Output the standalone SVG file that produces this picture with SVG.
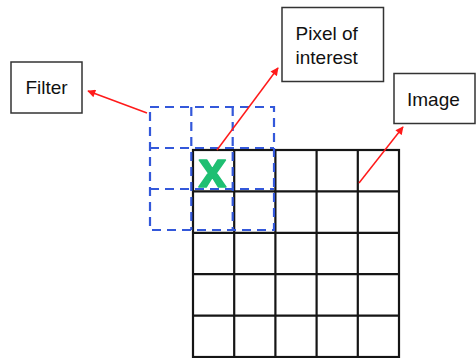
<svg xmlns="http://www.w3.org/2000/svg" width="476" height="358" viewBox="0 0 476 358">
  <style>
    .box { fill: #ffffff; stroke: #333333; stroke-width: 1.5; }
    .lbl { font-family: "Liberation Sans", Arial, sans-serif; font-size: 19px; fill: #111111; }
    .grid { fill: none; stroke: #151515; stroke-width: 2.2; }
    .filt { fill: none; stroke: #3358da; stroke-width: 2.2; stroke-dasharray: 9 6; }
    .arr { stroke: #ff1a1a; stroke-width: 1.5; fill: none; marker-end: url(#ah); }
  </style>
  <defs>
    <marker id="ah" viewBox="0 0 10 10" refX="9" refY="5" markerWidth="9" markerHeight="8" markerUnits="userSpaceOnUse" orient="auto">
      <path d="M0,0 L10,5 L0,10 z" fill="#ff1a1a"/>
    </marker>
  </defs>
  <rect width="476" height="358" fill="#ffffff"/>

  <g id="image-grid">
    <rect class="grid" x="193" y="150" width="206" height="207"/>
    <path class="grid" d="M234.2,150 V357 M275.4,150 V357 M316.6,150 V357 M357.8,150 V357 M193,191.4 H399 M193,232.8 H399 M193,274.2 H399 M193,315.6 H399"/>
  </g>

  <g id="filter-grid">
    <rect class="filt" x="150" y="107" width="124" height="123"/>
    <path class="filt" d="M191.3,107 V230 M232.7,107 V230 M150,148 H274 M150,189 H274"/>
  </g>

  <g id="pixel-mark">
    <text x="212.5" y="187" text-anchor="middle" font-family="Liberation Sans, Arial, sans-serif" font-weight="bold" font-size="50" fill="#1fbf72" stroke="#1fbf72" stroke-width="1.5" stroke-linejoin="round">x</text>
  </g>

  <g id="filter-label">
    <rect class="box" x="11" y="62" width="71" height="51"/>
    <text class="lbl" x="46.5" y="94" text-anchor="middle">Filter</text>
  </g>

  <g id="pixel-label">
    <rect class="box" x="282" y="7.5" width="101.5" height="74"/>
    <text class="lbl" x="295.5" y="39.5">Pixel of</text>
    <text class="lbl" x="295.5" y="64">interest</text>
  </g>

  <g id="image-label">
    <rect class="box" x="394" y="73.5" width="81" height="50"/>
    <text class="lbl" x="407" y="106">Image</text>
  </g>

  <g id="connectors">
    <line class="arr" x1="147" y1="113" x2="88" y2="91"/>
    <line class="arr" x1="217" y1="150" x2="278" y2="68"/>
    <line class="arr" x1="359" y1="183" x2="403" y2="127"/>
  </g>
</svg>
